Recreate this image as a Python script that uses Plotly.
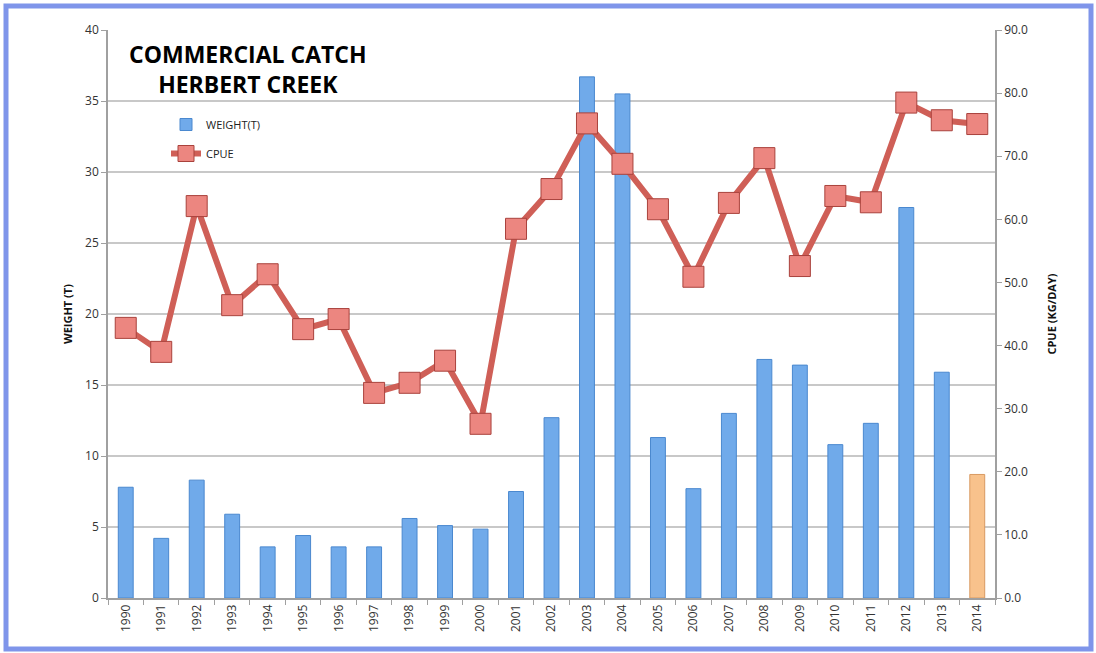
import plotly.graph_objects as go

years = [str(y) for y in range(1990, 2015)]
weight_t = [7.8, 4.2, 8.3, 5.9, 3.6, 4.4, 3.6, 3.6, 5.6, 5.1, 4.85, 7.5, 12.7,
            36.7, 35.5, 11.3, 7.7, 13.0, 16.8, 16.4, 10.8, 12.3, 27.5, 15.9, 8.7]
cpue = [42.8, 39.0, 62.1, 46.4, 51.3, 42.6, 44.2, 32.5, 34.1, 37.6, 27.6, 58.5, 64.8,
        75.2, 68.8, 61.6, 50.9, 62.6, 69.7, 52.6, 63.7, 62.7, 78.5, 75.7, 75.1]
bar_colors = ["#70aaea"] * 24 + ["#f8c28c"]
bar_lines = ["#4a88cf"] * 24 + ["#d99a62"]

W, H = 1096, 653
L, R, T, B = 108, 101, 30, 55
PW, PH = W - L - R, H - T - B


def px(x):
    return (x - L) / PW


def py(y):
    return (H - B - y) / PH


fig = go.Figure()
fig.add_trace(go.Bar(
    x=years, y=weight_t, name="WEIGHT(T)", legendgroup="w",
    marker=dict(color=bar_colors, line=dict(color=bar_lines, width=1)),
    width=0.42, yaxis="y"))
fig.add_trace(go.Scatter(
    x=years, y=cpue, name="CPUE", mode="lines+markers", yaxis="y2", legendgroup="c",
    line=dict(color="#cf5f57", width=6),
    marker=dict(symbol="square", size=21, color="#ec8680",
                line=dict(color="#a9423c", width=1))))

axis_font = dict(family="Open Sans, DejaVu Sans, sans-serif", size=12, color="#333333")
title_font = dict(family="Open Sans, sans-serif", size=11, color="#111")

fig.update_layout(
    width=W, height=H,
    margin=dict(l=L, r=R, t=T, b=B, autoexpand=False),
    paper_bgcolor="white", plot_bgcolor="white",
    showlegend=True,
    legend=dict(x=px(166), y=py(110), xanchor="left", yanchor="top",
                traceorder="grouped", tracegroupgap=10,
                bgcolor="rgba(0,0,0,0)",
                font=dict(family="Open Sans, sans-serif", size=11, color="#222")),
    bargap=0.58,
    xaxis=dict(type="category", range=[-0.5, 24.5], tickangle=-90, tickfont=axis_font,
               showline=True, linecolor="#a0a0a0", linewidth=1.5,
               ticks="outside", tickson="boundaries", ticklen=5, tickcolor="#a0a0a0",
               showgrid=False),
    yaxis=dict(range=[0, 40], dtick=5, tickfont=axis_font,
               showline=True, linecolor="#a0a0a0", linewidth=1.5,
               ticks="outside", ticklen=5, tickcolor="#a0a0a0",
               showgrid=True, gridcolor="#c8c8c8", gridwidth=2, zeroline=False,
               title=dict(text="<b>WEIGHT (T)</b>", font=title_font, standoff=10)),
    yaxis2=dict(range=[0, 90], dtick=10, tickformat=".1f", overlaying="y", side="right",
                tickfont=axis_font, showline=True, linecolor="#a0a0a0", linewidth=1.5,
                ticks="outside", ticklen=5, tickcolor="#a0a0a0", showgrid=False, zeroline=False,
                title=dict(text="<b>CPUE (KG/DAY)</b>", font=title_font, standoff=21)),
    annotations=[dict(text="<b>COMMERCIAL CATCH<br>HERBERT CREEK</b>", xref="paper", yref="paper",
                      x=px(248), y=py(36), xanchor="center", yanchor="top", showarrow=False,
                      align="center",
                      font=dict(family="Open Sans, sans-serif", size=23, color="#000"))],
    shapes=[dict(type="rect", xref="paper", yref="paper",
                 x0=px(6), x1=px(1091), y0=py(649), y1=py(6),
                 line=dict(color="#7f95ea", width=5), fillcolor="rgba(0,0,0,0)", layer="below")],
)

fig.write_html("out.html", config={"displayModeBar": False},
               post_script="document.body.style.margin='0';document.body.style.overflow='hidden';")
